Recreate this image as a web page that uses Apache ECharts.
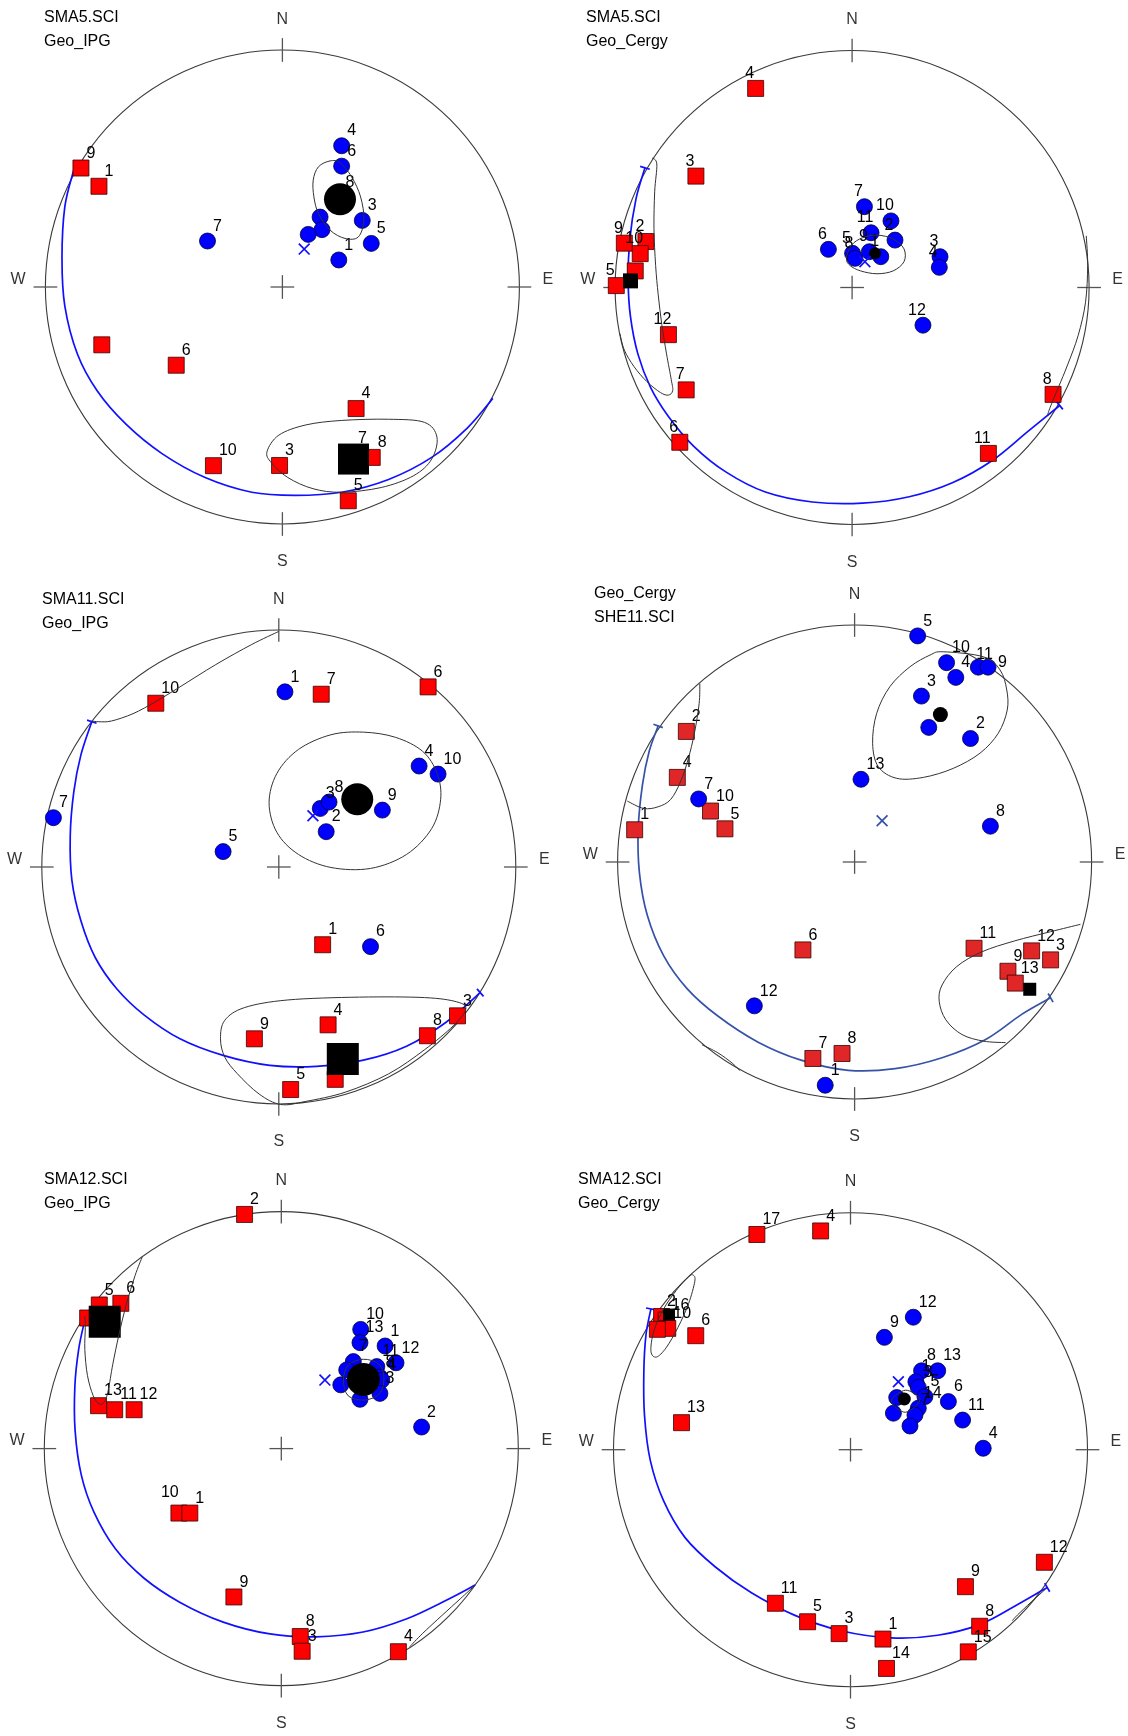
<!DOCTYPE html>
<html><head><meta charset="utf-8">
<script src="https://cdn.jsdelivr.net/npm/echarts/dist/echarts.min.js"></script>
<style>html,body{margin:0;padding:0;background:#fff}#c{width:1128px;height:1736px}</style>
</head><body><div id="c"></div>
<script>
// All coordinates are on the unit stereonet: x = East, y = North, primitive radius = 1.

// ---------- Panel 1 : SMA5.SCI / Geo_IPG ----------
const P1_TITLE = ['SMA5.SCI', 'Geo_IPG'];
const P1_BLUE = [['4',0.250,0.596],['6',0.250,0.510],['8',0.243,0.378],['3',0.337,0.281],['5',0.375,0.184],
  ['1',0.238,0.114],['10',0.159,0.295],['2',0.167,0.242],['9',0.109,0.222],['7',-0.316,0.194]];
const P1_RED = [['9',-0.850,0.502],['1',-0.774,0.425],['2',-0.762,-0.244],['6',-0.448,-0.330],['4',0.311,-0.513],
  ['10',-0.291,-0.754],['3',-0.012,-0.753],['7',0.296,-0.700],['8',0.379,-0.719],['5',0.278,-0.902]];
const P1_HIDDEN = ['blue-2','blue-9','red-2'];
const P1_MEAN_BLUE = [0.243,0.370];
const P1_MEAN_RED = [0.300,-0.726];
const P1_CROSS = [0.092,0.160];
const P1_GREAT = [[-0.880,0.495],[-0.918,0.339],[-0.930,0.121],[-0.918,-0.081],[-0.865,-0.283],[-0.781,-0.439],
  [-0.660,-0.579],[-0.508,-0.703],[-0.326,-0.804],[-0.129,-0.866],[0.053,-0.879],[0.250,-0.866],[0.448,-0.812],
  [0.630,-0.719],[0.781,-0.594],[0.888,-0.470]];
const P1_OUTLINES = [
  [[0.201,0.532],[0.152,0.507],[0.130,0.451],[0.133,0.380],[0.152,0.310],[0.201,0.240],[0.264,0.205],[0.320,0.211],
   [0.344,0.282],[0.330,0.380],[0.292,0.465],[0.243,0.524]],
  [[-0.065,-0.695],[-0.015,-0.625],[0.099,-0.582],[0.250,-0.563],[0.448,-0.558],[0.599,-0.571],[0.652,-0.633],
   [0.630,-0.726],[0.554,-0.796],[0.417,-0.846],[0.250,-0.866],[0.129,-0.851],[0.023,-0.804],[-0.046,-0.742]]
];
const P1_CLOSED = [true, true];

// ---------- Panel 2 : SMA5.SCI / Geo_Cergy ----------
const P2_TITLE = ['SMA5.SCI', 'Geo_Cergy'];
const P2_BLUE = [['7',0.052,0.341],['10',0.164,0.281],['11',0.080,0.231],['2',0.181,0.200],['6',-0.100,0.161],
  ['5',0.002,0.144],['8',0.012,0.123],['9',0.073,0.151],['1',0.121,0.130],['3',0.371,0.130],['4',0.368,0.085],['12',0.299,-0.159]];
const P2_RED = [['4',-0.407,0.840],['3',-0.659,0.470],['9',-0.961,0.187],['2',-0.870,0.194],['10',-0.894,0.143],
  ['1',-0.915,0.070],['5',-0.995,0.008],['12',-0.775,-0.199],['7',-0.700,-0.432],['6',-0.727,-0.653],['8',0.848,-0.451],['11',0.575,-0.700]];
const P2_HIDDEN = ['red-1'];
const P2_MEAN_BLUE = [0.097,0.144];
const P2_MEAN_RED = [-0.935,0.028];
const P2_CROSS = [0.054,0.109];
const P2_GREAT = [[-0.874,0.505],[-0.912,0.373],[-0.938,0.202],[-0.945,0.031],[-0.935,-0.124],[-0.904,-0.280],
  [-0.851,-0.420],[-0.775,-0.544],[-0.669,-0.669],[-0.533,-0.778],[-0.366,-0.863],[-0.168,-0.905],[0.044,-0.910],
  [0.241,-0.883],[0.423,-0.824],[0.590,-0.731],[0.742,-0.607],[0.876,-0.498]];
const P2_OUTLINES = [
  [[-0.024,0.124],[-0.002,0.179],[0.044,0.210],[0.105,0.221],[0.173,0.205],[0.219,0.163],[0.219,0.109],[0.173,0.070],
   [0.105,0.058],[0.036,0.070],[-0.009,0.093]],
  [[-0.844,0.547],[-0.824,0.521],[-0.833,0.404],[-0.836,0.249],[-0.829,0.093],[-0.818,-0.031],[-0.803,-0.156],
   [-0.783,-0.280],[-0.763,-0.389],[-0.757,-0.435],[-0.775,-0.454],[-0.809,-0.443],[-0.866,-0.397],[-0.920,-0.334],
   [-0.961,-0.264],[-0.980,-0.194]],
  [[0.988,0.218],[0.994,0.093],[0.985,-0.062],[0.954,-0.202],[0.909,-0.327],[0.871,-0.420],[0.836,-0.505],[0.825,-0.537]]
];
const P2_CLOSED = [true, false, false];

// ---------- Panel 3 : SMA11.SCI / Geo_IPG ----------
const P3_TITLE = ['SMA11.SCI', 'Geo_IPG'];
const P3_BLUE = [['1',0.026,0.739],['7',-0.951,0.208],['5',-0.235,0.065],['4',0.592,0.426],['10',0.672,0.392],
  ['3',0.175,0.247],['8',0.212,0.274],['2',0.200,0.149],['9',0.437,0.240],['6',0.387,-0.336]];
const P3_RED = [['10',-0.519,0.691],['7',0.179,0.729],['6',0.630,0.760],['1',0.185,-0.328],['4',0.208,-0.666],
  ['9',-0.103,-0.725],['8',0.627,-0.712],['3',0.754,-0.628],['5',0.050,-0.939],['2',0.238,-0.896]];
const P3_HIDDEN = ['red-2'];
const P3_MEAN_BLUE = [0.331,0.286];
const P3_MEAN_RED = [0.270,-0.810];
const P3_CROSS = [0.144,0.216];
const P3_GREAT = [[-0.789,0.613],[-0.835,0.473],[-0.865,0.317],[-0.880,0.131],[-0.873,-0.056],[-0.835,-0.227],
  [-0.774,-0.383],[-0.683,-0.515],[-0.569,-0.624],[-0.417,-0.725],[-0.235,-0.795],[-0.038,-0.837],[0.159,-0.841],
  [0.357,-0.815],[0.539,-0.756],[0.706,-0.655],[0.850,-0.530]];
const P3_OUTLINES = [
  [[-0.041,0.271],[-0.008,0.395],[0.083,0.496],[0.220,0.558],[0.357,0.569],[0.493,0.547],[0.607,0.488],[0.668,0.395],
   [0.683,0.286],[0.645,0.162],[0.539,0.053],[0.387,-0.006],[0.220,-0.002],[0.083,0.053],[-0.008,0.146]],
  [[-0.246,-0.725],[-0.228,-0.647],[-0.144,-0.593],[0.038,-0.561],[0.341,-0.549],[0.615,-0.551],[0.751,-0.569],
   [0.789,-0.600],[0.736,-0.670],[0.615,-0.771],[0.463,-0.873],[0.281,-0.950],[0.114,-0.989],[0.008,-1.002],
   [-0.083,-0.958],[-0.175,-0.872],[-0.228,-0.802]],
  [[0.0,0.994],[-0.114,0.939],[-0.266,0.854],[-0.417,0.760],[-0.519,0.698],[-0.615,0.647],[-0.706,0.616],[-0.759,0.613],[-0.789,0.616]]
];
const P3_CLOSED = [true, true, false];

// ---------- Panel 4 : Geo_Cergy / SHE11.SCI ----------
const P4_TITLE = ['Geo_Cergy', 'SHE11.SCI'];
const P4_BLUE = [['5',0.266,0.954],['10',0.388,0.841],['4',0.427,0.779],['11',0.522,0.822],['9',0.563,0.822],
  ['3',0.282,0.700],['6',0.313,0.568],['2',0.489,0.521],['13',0.027,0.349],['7',-0.658,0.266],['8',0.573,0.151],
  ['12',-0.423,-0.607],['1',-0.124,-0.942]];
const P4_RED = [['2',-0.710,0.551],['4',-0.748,0.357],['10',-0.608,0.215],['5',-0.547,0.140],['1',-0.928,0.136],
  ['6',-0.218,-0.371],['7',-0.176,-0.829],['8',-0.053,-0.808],['11',0.504,-0.364],['12',0.747,-0.375],
  ['3',0.827,-0.413],['9',0.647,-0.461],['13',0.678,-0.511]];
const P4_HIDDEN = ['blue-6'];
const P4_MEAN_BLUE = [0.362,0.622];
const P4_MEAN_RED = [0.739,-0.537];
const P4_CROSS = [0.116,0.174];
const P4_GREAT = [[-0.829,0.574],[-0.867,0.466],[-0.895,0.326],[-0.913,0.140],[-0.908,-0.045],[-0.875,-0.224],
  [-0.806,-0.395],[-0.707,-0.534],[-0.577,-0.650],[-0.409,-0.759],[-0.226,-0.836],[-0.027,-0.879],[0.171,-0.872],
  [0.369,-0.826],[0.553,-0.749],[0.705,-0.643],[0.827,-0.573]];
const P4_OUTLINES = [
  [[0.374,0.887],[0.543,0.866],[0.614,0.810],[0.642,0.726],[0.644,0.641],[0.606,0.543],[0.529,0.459],[0.416,0.395],
   [0.290,0.357],[0.178,0.353],[0.100,0.402],[0.076,0.501],[0.093,0.627],[0.149,0.740],[0.234,0.824],[0.318,0.873]],
  [[0.953,-0.263],[0.827,-0.294],[0.675,-0.333],[0.537,-0.379],[0.431,-0.441],[0.369,-0.519],[0.357,-0.588],
   [0.385,-0.666],[0.453,-0.728],[0.545,-0.756],[0.637,-0.762]],
  [[-0.653,0.753],[-0.656,0.668],[-0.676,0.543],[-0.702,0.435],[-0.733,0.342],[-0.776,0.264],[-0.829,0.233],[-0.890,0.226],[-0.959,0.257]],
  [[-0.644,-0.771],[-0.577,-0.805],[-0.516,-0.849],[-0.485,-0.880]]
];
const P4_CLOSED = [true, false, false, false];

// ---------- Panel 5 : SMA12.SCI / Geo_IPG ----------
const P5_TITLE = ['SMA12.SCI', 'Geo_IPG'];
const P5_BLUE = [['10',0.335,0.503],['13',0.332,0.447],['1',0.438,0.433],['12',0.484,0.362],['11',0.403,0.346],
  ['7',0.304,0.367],['8',0.416,0.301],['4',0.424,0.289],['3',0.416,0.233],['5',0.276,0.332],['6',0.251,0.269],
  ['9',0.332,0.208],['2',0.592,0.091]];
const P5_RED = [['2',-0.155,0.988],['5',-0.768,0.606],['6',-0.677,0.613],['7',-0.817,0.551],['13',-0.771,0.181],
  ['11',-0.703,0.164],['12',-0.621,0.164],['10',-0.432,-0.272],['1',-0.386,-0.272],['9',-0.200,-0.626],
  ['8',0.080,-0.793],['3',0.088,-0.855],['4',0.494,-0.857]];
const P5_HIDDEN = ['blue-5','blue-6','blue-9','red-7'];
const P5_MEAN_BLUE = [0.346,0.292];
const P5_MEAN_RED = [-0.745,0.535];
const P5_CROSS = [0.184,0.289];
const P5_GREAT = [[-0.829,0.543],[-0.855,0.419],[-0.871,0.263],[-0.870,0.076],[-0.844,-0.111],[-0.791,-0.267],
  [-0.700,-0.423],[-0.579,-0.547],[-0.427,-0.649],[-0.245,-0.732],[-0.048,-0.782],[0.148,-0.794],[0.345,-0.774],
  [0.527,-0.719],[0.694,-0.641],[0.818,-0.576]];
const P5_OUTLINES = [
  [[0.346,0.377],[0.411,0.357],[0.433,0.301],[0.416,0.233],[0.353,0.205],[0.283,0.222],[0.262,0.289],[0.283,0.353]],
  [[-0.586,0.811],[-0.617,0.730],[-0.655,0.605],[-0.685,0.481],[-0.711,0.356],[-0.730,0.247],[-0.745,0.200],
   [-0.768,0.188],[-0.794,0.224],[-0.818,0.309],[-0.829,0.418],[-0.827,0.512],[-0.829,0.559]],
  [[0.818,-0.576],[0.755,-0.634],[0.679,-0.703],[0.595,-0.781],[0.542,-0.836]]
];
const P5_CLOSED = [true, false, false];

// ---------- Panel 6 : SMA12.SCI / Geo_Cergy ----------
const P6_TITLE = ['SMA12.SCI', 'Geo_Cergy'];
const P6_BLUE = [['12',0.265,0.559],['9',0.143,0.474],['8',0.300,0.333],['13',0.368,0.333],['6',0.413,0.203],
  ['11',0.473,0.125],['4',0.560,0.006],['1',0.276,0.287],['3',0.286,0.263],['5',0.314,0.224],['14',0.286,0.175],
  ['7',0.272,0.146],['2',0.195,0.220],['10',0.181,0.154],['15',0.251,0.100]];
const P6_RED = [['17',-0.395,0.908],['4',-0.126,0.923],['6',-0.653,0.481],['13',-0.713,0.114],['11',-0.317,-0.648],
  ['5',-0.181,-0.726],['3',-0.048,-0.776],['1',0.137,-0.799],['14',0.152,-0.923],['9',0.485,-0.578],
  ['12',0.818,-0.475],['8',0.545,-0.745],['15',0.497,-0.853],['2',-0.797,0.562],['16',-0.778,0.547],
  ['10',-0.771,0.512],['7',-0.815,0.508]];
const P6_HIDDEN = ['blue-2','blue-10','blue-15','red-7'];
const P6_MEAN_BLUE = [0.227,0.214];
const P6_MEAN_RED = [-0.766,0.570];
const P6_CROSS = [0.202,0.287];
const P6_GREAT = [[-0.842,0.594],[-0.863,0.484],[-0.872,0.329],[-0.869,0.142],[-0.845,-0.044],[-0.789,-0.215],
  [-0.698,-0.371],[-0.570,-0.495],[-0.418,-0.604],[-0.237,-0.698],[-0.040,-0.764],[0.172,-0.794],[0.368,-0.783],
  [0.550,-0.736],[0.709,-0.651],[0.830,-0.581]];
const P6_OUTLINES = [
  [[0.172,0.205],[0.232,0.251],[0.293,0.212],[0.232,0.158]],
  [[-0.663,0.736],[-0.657,0.710],[-0.683,0.617],[-0.728,0.516],[-0.778,0.430],[-0.819,0.391],[-0.842,0.415],
   [-0.830,0.500],[-0.789,0.593],[-0.736,0.671],[-0.683,0.730]],
  [[0.822,-0.589],[0.762,-0.643],[0.704,-0.698],[0.683,-0.721]]
];
const P6_CLOSED = [true, true, false];

// ---------- layout & style ----------
const R = 237;
const LAYOUT = [
  {cx:282.4, cy:287.0, tx:44,  ty:6},
  {cx:852.1, cy:287.5, tx:586, ty:6},
  {cx:278.8, cy:867.0, tx:42,  ty:588},
  {cx:854.6, cy:862.0, tx:594, ty:582},
  {cx:281.3, cy:1448.6, tx:44, ty:1168},
  {cx:850.5, cy:1449.7, tx:578, ty:1168}
];
const STYLE = [
  {labelMode:'tr',  meanBlueSize:32, meanRedSize:31, great:'#1010ff', red:'#ff0000', endTicks:false},
  {labelMode:'top', meanBlueSize:12, meanRedSize:15, great:'#1010ff', red:'#ff0000', endTicks:true},
  {labelMode:'tr',  meanBlueSize:32, meanRedSize:32, great:'#1010ff', red:'#ff0000', endTicks:true},
  {labelMode:'tr',  meanBlueSize:15, meanRedSize:13, great:'#3552a8', red:'#e02626', endTicks:true},
  {labelMode:'tr',  meanBlueSize:33, meanRedSize:32, great:'#1010ff', red:'#ff0000', endTicks:false},
  {labelMode:'tr',  meanBlueSize:13, meanRedSize:12, great:'#1010ff', red:'#ff0000', endTicks:true}
];
const LABEL_MODES = {tr:{offset:[5.5,-14.7], align:'left'}, top:{offset:[-6,-15], align:'center'}};
const LABEL_OVERRIDES = {'3-blue-9':[10,-5], '3-blue-11':[-2,-13], '4-red-10':[-18,-20]};

const PANELS = [
  {title:P1_TITLE, blue:P1_BLUE, red:P1_RED, hidden:P1_HIDDEN, meanBlue:P1_MEAN_BLUE, meanRed:P1_MEAN_RED, cross:P1_CROSS, great:P1_GREAT, outlines:P1_OUTLINES, closed:P1_CLOSED},
  {title:P2_TITLE, blue:P2_BLUE, red:P2_RED, hidden:P2_HIDDEN, meanBlue:P2_MEAN_BLUE, meanRed:P2_MEAN_RED, cross:P2_CROSS, great:P2_GREAT, outlines:P2_OUTLINES, closed:P2_CLOSED},
  {title:P3_TITLE, blue:P3_BLUE, red:P3_RED, hidden:P3_HIDDEN, meanBlue:P3_MEAN_BLUE, meanRed:P3_MEAN_RED, cross:P3_CROSS, great:P3_GREAT, outlines:P3_OUTLINES, closed:P3_CLOSED},
  {title:P4_TITLE, blue:P4_BLUE, red:P4_RED, hidden:P4_HIDDEN, meanBlue:P4_MEAN_BLUE, meanRed:P4_MEAN_RED, cross:P4_CROSS, great:P4_GREAT, outlines:P4_OUTLINES, closed:P4_CLOSED},
  {title:P5_TITLE, blue:P5_BLUE, red:P5_RED, hidden:P5_HIDDEN, meanBlue:P5_MEAN_BLUE, meanRed:P5_MEAN_RED, cross:P5_CROSS, great:P5_GREAT, outlines:P5_OUTLINES, closed:P5_CLOSED},
  {title:P6_TITLE, blue:P6_BLUE, red:P6_RED, hidden:P6_HIDDEN, meanBlue:P6_MEAN_BLUE, meanRed:P6_MEAN_RED, cross:P6_CROSS, great:P6_GREAT, outlines:P6_OUTLINES, closed:P6_CLOSED}
];

const FONT = 'Liberation Sans';
const CARDINALS = [['N',0,1.13],['S',0,-1.16],['W',-1.115,0.033],['E',1.12,0.033]];
const X_PATH = 'path://M0,1 L1,0 L10,9 L9,10 Z M9,0 L10,1 L1,10 L0,9 Z';

function frameItem(params, api) {
  const c = api.coord([0, 0]);
  const r = api.coord([1, 0])[0] - c[0];
  const t = 0.05 * r;
  const ln = (x1, y1, x2, y2) => ({type:'line', shape:{x1, y1, x2, y2}, style:{stroke:'#555', lineWidth:1.3}});
  return {type:'group', children:[
    {type:'circle', shape:{cx:c[0], cy:c[1], r:r}, style:{fill:'none', stroke:'#3a3a3a', lineWidth:1.1}},
    ln(c[0], c[1]-r-t, c[0], c[1]-r+t),
    ln(c[0], c[1]+r-t, c[0], c[1]+r+t),
    ln(c[0]-r-t, c[1], c[0]-r+t, c[1]),
    ln(c[0]+r-t, c[1], c[0]+r+t, c[1]),
    ln(c[0]-t, c[1], c[0]+t, c[1]),
    ln(c[0], c[1]-t, c[0], c[1]+t)
  ]};
}

// Smooth curve through the read points (Catmull-Rom), positioned via the axes' scales.
function curveSeries(points, closed, idx, color, width, z, endTicks) {
  return {
    type:'custom', xAxisIndex:idx, yAxisIndex:idx, silent:true, z:z, data:points,
    renderItem: function (params, api) {
      if (params.dataIndex !== 0) return null;
      const p = points.map(q => api.coord(q));
      const n = p.length;
      const get = k => closed ? p[(k + n) % n] : p[Math.max(0, Math.min(n - 1, k))];
      let d = 'M' + p[0][0] + ',' + p[0][1];
      const segs = closed ? n : n - 1;
      for (let k = 0; k < segs; k++) {
        const a = get(k - 1), b = get(k), c = get(k + 1), e = get(k + 2);
        const c1 = [b[0] + (c[0] - a[0]) / 6, b[1] + (c[1] - a[1]) / 6];
        const c2 = [c[0] - (e[0] - b[0]) / 6, c[1] - (e[1] - b[1]) / 6];
        d += 'C' + c1[0] + ',' + c1[1] + ' ' + c2[0] + ',' + c2[1] + ' ' + c[0] + ',' + c[1];
      }
      if (closed) d += 'Z';
      const children = [{type:'path', shape:{pathData:d}, style:{fill:'none', stroke:color, lineWidth:width}}];
      if (endTicks) {
        [[p[0], p[1]], [p[n - 1], p[n - 2]]].forEach(([e0, e1]) => {
          const dx = e1[0] - e0[0], dy = e1[1] - e0[1], L = Math.hypot(dx, dy) || 1;
          const nx = -dy / L * 5, ny = dx / L * 5;
          children.push({type:'line', shape:{x1:e0[0] - nx, y1:e0[1] - ny, x2:e0[0] + nx, y2:e0[1] + ny},
            style:{stroke:color, lineWidth:width}});
        });
      }
      return {type:'group', children:children};
    }
  };
}

function pointData(list, kind, idx, hidden) {
  return list.map(([id, x, y]) => {
    const item = {value:[x, y], name: hidden.includes(kind + '-' + id) ? '' : id};
    const ov = LABEL_OVERRIDES[idx + '-' + kind + '-' + id];
    if (ov) item.label = {offset: ov, align:'left'};
    return item;
  });
}

const series = [];
PANELS.forEach((P, i) => {
  const S = STYLE[i];
  const LM = LABEL_MODES[S.labelMode];
  const ax = {xAxisIndex:i, yAxisIndex:i};
  const numLabel = {show:true, position:'inside', formatter:'{b}', offset:LM.offset, align:LM.align,
    verticalAlign:'middle', color:'#000', fontSize:16, fontFamily:FONT, textBorderWidth:0};
  series.push(Object.assign({type:'custom', renderItem:frameItem, data:[[0,0]], silent:true, z:1}, ax));
  series.push(Object.assign({type:'scatter', symbolSize:1, itemStyle:{color:'rgba(0,0,0,0)'}, clip:false, silent:true, z:1,
    data: CARDINALS.map(([n, x, y]) => ({value:[x, y], name:n})),
    label:{show:true, position:'inside', formatter:'{b}', color:'#000', fontSize:16, fontFamily:FONT, textBorderWidth:0}}, ax));
  series.push(curveSeries(P.great, false, i, S.great, 1.7, 2, S.endTicks));
  series.push(Object.assign({type:'scatter', symbol:'rect', symbolSize:16, clip:false, z:3,
    itemStyle:{color:S.red, borderColor:'#3a0000', borderWidth:0.8, opacity:1}, label:numLabel,
    data:pointData(P.red, 'red', i, P.hidden)}, ax));
  series.push(Object.assign({type:'scatter', symbol:'circle', symbolSize:16, clip:false, z:3,
    itemStyle:{color:'#0000ff', borderColor:'#00003a', borderWidth:0.8, opacity:1}, label:numLabel,
    data:pointData(P.blue, 'blue', i, P.hidden)}, ax));
  series.push(Object.assign({type:'scatter', symbol:'circle', symbolSize:S.meanBlueSize, clip:false, z:4,
    itemStyle:{color:'#000', opacity:1}, data:[P.meanBlue]}, ax));
  series.push(Object.assign({type:'scatter', symbol:'rect', symbolSize:S.meanRedSize, clip:false, z:4,
    itemStyle:{color:'#000', opacity:1}, data:[P.meanRed]}, ax));
  P.outlines.forEach((o, k) => series.push(curveSeries(o, P.closed[k], i, '#333', 1, 5, false)));
  series.push(Object.assign({type:'scatter', symbol:X_PATH, symbolSize:12, clip:false, z:6,
    itemStyle:{color:S.great, opacity:1}, data:[P.cross]}, ax));
});

const chart = echarts.init(document.getElementById('c'), null, {renderer:'canvas'});
chart.setOption({
  animation:false,
  backgroundColor:'#fff',
  title: LAYOUT.map((L, i) => ({text:PANELS[i].title.join('\n'), left:L.tx, top:L.ty, padding:0,
    textStyle:{fontSize:16, fontWeight:'normal', fontFamily:FONT, color:'#000', lineHeight:24}})),
  grid: LAYOUT.map(L => ({left:L.cx - R, top:L.cy - R, width:2*R, height:2*R})),
  xAxis: LAYOUT.map((L, i) => ({type:'value', gridIndex:i, min:-1, max:1, show:false})),
  yAxis: LAYOUT.map((L, i) => ({type:'value', gridIndex:i, min:-1, max:1, show:false})),
  series: series
});
</script></body></html>
